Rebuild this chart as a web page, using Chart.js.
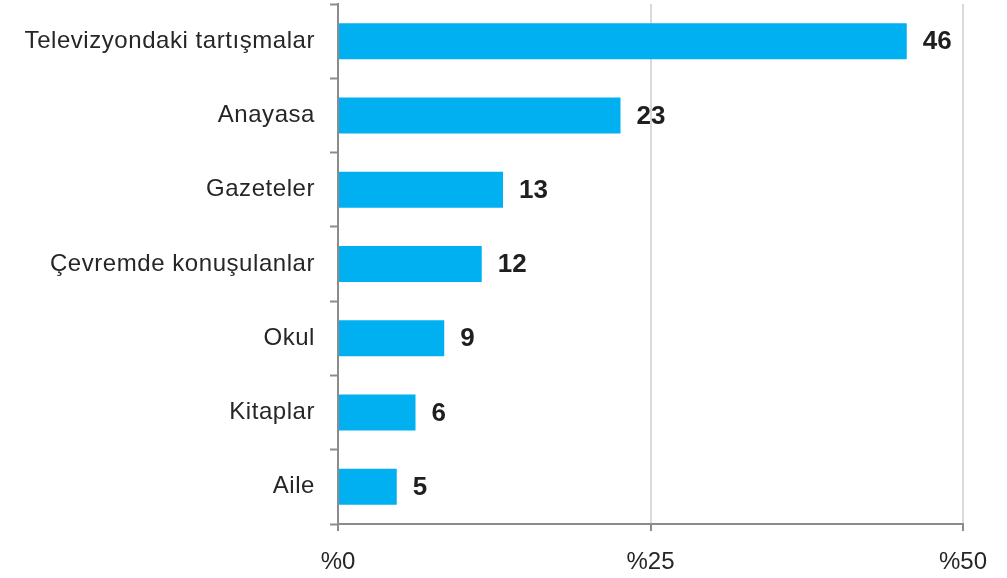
<!DOCTYPE html>
<html>
<head>
<meta charset="utf-8">
<script src="https://cdn.jsdelivr.net/npm/chart.js@4/dist/chart.umd.min.js"></script>
<style>
html,body{margin:0;padding:0;background:#fff;}
#wrap{width:1007px;height:578px;position:relative;}
</style>
</head>
<body>
<div id="wrap"><canvas id="c" width="1007" height="578"></canvas></div>
<script>
const categories = ["Televizyondaki tartışmalar","Anayasa","Gazeteler","Çevremde konuşulanlar","Okul","Kitaplar","Aile"];
const values = [45.5, 22.6, 13.2, 11.5, 8.5, 6.2, 4.7];
const valueLabels = ["46","23","13","12","9","6","5"];
const xTicks = [0, 25, 50];

const dataLabelPlugin = {
  id: 'dataLabels',
  beforeDraw(chart) {
    const s = chart.scales.y;
    if (s && !s._spaced) {
      const orig = s.drawLabels.bind(s);
      s.drawLabels = function (area) {
        const ctx = chart.ctx;
        ctx.save();
        ctx.letterSpacing = '0.55px';
        orig(area);
        ctx.restore();
      };
      s._spaced = true;
    }
  },
  afterDatasetsDraw(chart) {
    const ctx = chart.ctx;
    const meta = chart.getDatasetMeta(0);
    ctx.save();
    ctx.font = 'bold 26px "Liberation Sans", Arial, sans-serif';
    ctx.fillStyle = '#1f1f1f';
    ctx.textAlign = 'left';
    ctx.textBaseline = 'middle';
    meta.data.forEach((bar, i) => {
      ctx.fillText(valueLabels[i], bar.x + 16, bar.y + 1);
    });
    ctx.restore();
  }
};

new Chart(document.getElementById('c'), {
  type: 'bar',
  data: {
    labels: categories,
    datasets: [{
      data: values,
      backgroundColor: '#00B0F0',
      borderWidth: 0,
      barPercentage: 0.485,
      categoryPercentage: 1
    }]
  },
  options: {
    indexAxis: 'y',
    responsive: false,
    animation: false,
    devicePixelRatio: 1,
    layout: { autoPadding: false, padding: { top: 4, right: 44, left: 0, bottom: 0 } },
    plugins: { legend: { display: false }, tooltip: { enabled: false } },
    scales: {
      x: {
        min: 0, max: 50,
        afterBuildTicks(scale) { scale.ticks = xTicks.map(v => ({ value: v })); },
        afterFit(scale) { scale.height = 54; scale.paddingLeft = 0; scale.paddingRight = 0; },
        ticks: {
          callback: v => '%' + v,
          color: '#262626',
          font: { family: '"Liberation Sans", Arial, sans-serif', size: 24 },
          padding: 17,
          maxRotation: 0
        },
        grid: {
          color: c => (c.tick && c.tick.value === 0) ? 'rgba(0,0,0,0)' : '#d9d9d9',
          lineWidth: 2,
          drawTicks: true,
          tickLength: 7,
          tickColor: '#8c8c8c',
          tickWidth: 2
        },
        border: { color: '#8c8c8c', width: 2 }
      },
      y: {
        afterFit(scale) { scale.width = 338; scale.paddingTop = 0; scale.paddingBottom = 0; },
        ticks: {
          color: '#262626',
          font: { family: '"Liberation Sans", Arial, sans-serif', size: 24 },
          padding: 15
        },
        grid: {
          offset: true,
          drawOnChartArea: false,
          drawTicks: true,
          tickLength: 8,
          tickColor: '#8c8c8c',
          tickWidth: 2
        },
        border: { color: '#8c8c8c', width: 2 }
      }
    }
  },
  plugins: [dataLabelPlugin]
});
</script>
</body>
</html>
